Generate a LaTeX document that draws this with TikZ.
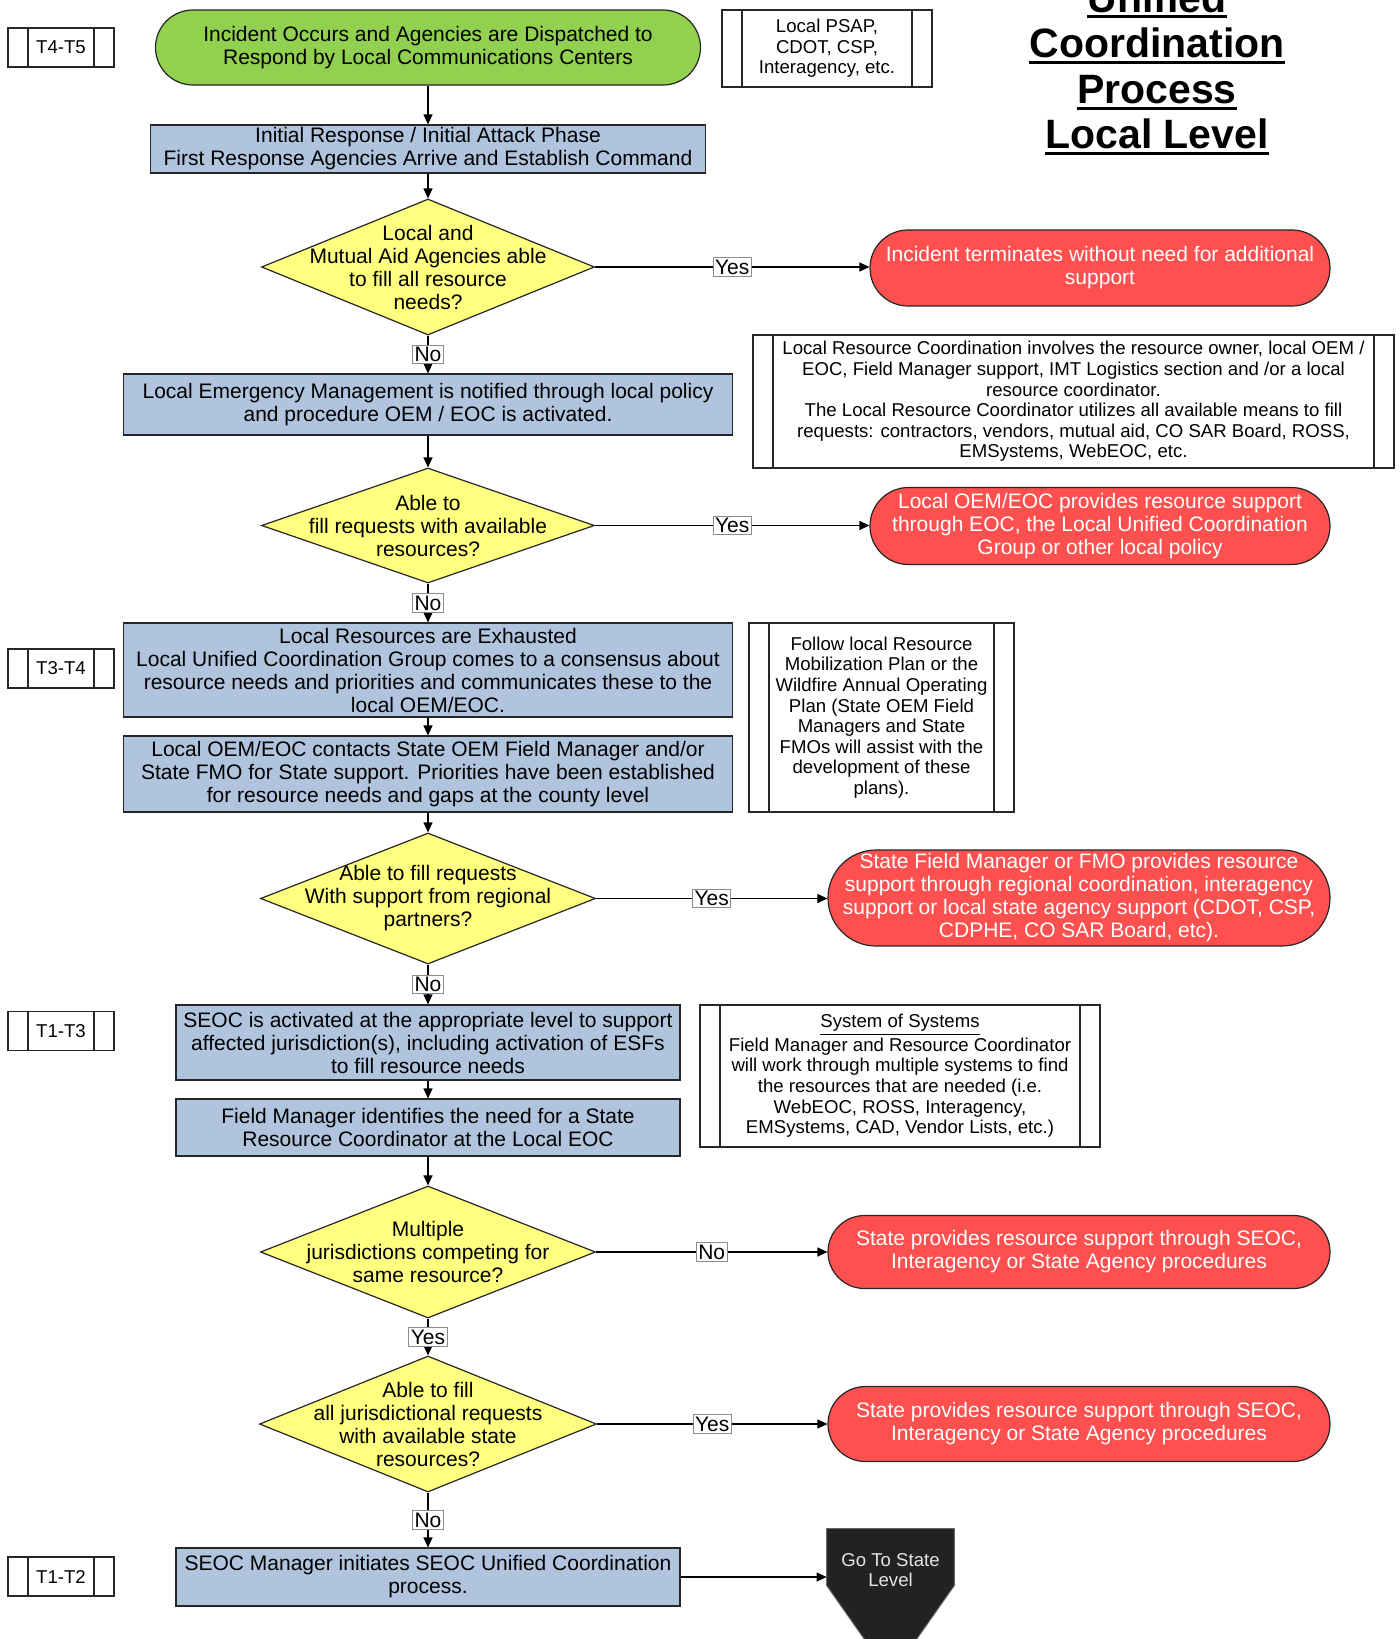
\documentclass[tikz,border=0pt]{standalone}
\usepackage{fontspec}
\setmainfont{Liberation Sans}
\usetikzlibrary{shapes.geometric,shapes.misc,arrows.meta,backgrounds}

\definecolor{startgreen}{HTML}{92D050}
\definecolor{stepblue}{HTML}{B0C4DE}
\definecolor{askyellow}{HTML}{FFFF80}
\definecolor{endred}{HTML}{FF5050}
\definecolor{exitdark}{HTML}{222222}

\newcommand\fmain{\fontsize{10.5}{11.5}\selectfont}
\newcommand\fnote{\fontsize{9.3}{10.3}\selectfont}
\newcommand\ftitle{\fontsize{20.5}{22}\selectfont\bfseries}

\begin{document}
\begin{tikzpicture}[x=0.5pt,y=-0.5pt,
  every node/.style={inner sep=0pt, align=center},
  outline/.style={draw=black!85, line width=0.6pt},
  startbox/.style={outline, rounded rectangle, fill=startgreen, font=\fmain},
  stepbox/.style={outline, rectangle, fill=stepblue, font=\fmain},
  askbox/.style={outline, diamond, fill=askyellow},
  asktext/.style={font=\fmain},
  endbox/.style={outline, rounded rectangle, fill=endred, text=white, font=\fmain},
  widebox/.style={outline, rectangle, rounded corners=#1, fill=endred, text=white, font=\fmain},
  notebox/.style={outline, rectangle, fill=white, font=\fnote,
    path picture={
      \draw[black!85, line width=0.6pt]
        ([xshift=10pt]path picture bounding box.north west) --
        ([xshift=10pt]path picture bounding box.south west);
      \draw[black!85, line width=0.6pt]
        ([xshift=-10pt]path picture bounding box.north east) --
        ([xshift=-10pt]path picture bounding box.south east);
    }},
  lanebox/.style={notebox, minimum width=53pt, minimum height=19.5pt, font=\fnote},
  flow/.style={draw=black, line width=0.6pt, -{Triangle[length=5pt,width=4.5pt]}},
  answer/.style={fill=white, draw=black!45, line width=0.4pt, inner sep=1pt, font=\fmain},
  heading/.style={font=\ftitle, anchor=base},
]
\useasboundingbox (0,0) rectangle (1400,1639);
\begin{scope}[on background layer]
  \fill[white] (0,0) rectangle (1400,1639);
\end{scope}

% title
\node[heading] (ttl1) at (1157,12) {Unified};
\node[heading] (ttl2) at (1157,57.5) {Coordination};
\node[heading] (ttl3) at (1157,103.5) {Process};
\node[heading] (ttl4) at (1157,148.5) {Local Level};
\foreach \t in {ttl1,ttl2,ttl3,ttl4}
  \fill ([yshift=-1.6pt]\t.base west) rectangle ([yshift=-3.1pt]\t.base east);

% tier labels
\node[lanebox] (lane1) at (61,47.5) {T4-T5};
\node[lanebox] (lane2) at (61,668.5) {T3-T4};
\node[lanebox] (lane3) at (61,1031) {T1-T3};
\node[lanebox] (lane4) at (61,1576.5) {T1-T2};

% main column
\node[startbox, minimum width=272.5pt, minimum height=37.5pt] (start) at (428,47.5)
  {Incident Occurs and Agencies are Dispatched to\\Respond by Local Communications Centers};
\node[stepbox, minimum width=277.5pt, minimum height=24pt] (box1) at (428,149)
  {Initial Response / Initial Attack Phase\\First Response Agencies Arrive and Establish Command};
\node[askbox, minimum width=166.5pt, minimum height=68pt] (d1) at (428,267) {};
\node[asktext] (d1t) at (d1) {Local and\\Mutual Aid Agencies able\\to fill all resource\\needs?};
\node[stepbox, minimum width=304.5pt, minimum height=30.5pt] (box2) at (428,404.5)
  {Local Emergency Management is notified through local policy\\and procedure OEM / EOC is activated.};
\node[askbox, minimum width=166.5pt, minimum height=57.5pt] (d2) at (428,525.5) {};
\node[asktext] (d2t) at (d2) {Able to\\fill requests with available\\resources?};
\node[stepbox, minimum width=304.5pt, minimum height=47pt] (box3) at (428,670)
  {Local Resources are Exhausted\\Local Unified Coordination Group comes to a consensus about\\resource needs and priorities and communicates these to the\\local OEM/EOC.};
\node[stepbox, minimum width=304.5pt, minimum height=38pt] (box4) at (428,774)
  {Local OEM/EOC contacts State OEM Field Manager and/or\\State FMO for State support. Priorities have been established\\for resource needs and gaps at the county level};
\node[askbox, minimum width=167.5pt, minimum height=65.5pt] (d3) at (428,898.5) {};
\node[asktext] (d3t) at (d3) {Able to fill requests\\With support from regional\\partners?};
\node[stepbox, minimum width=252pt, minimum height=37.5pt] (box5) at (428,1042.5)
  {SEOC is activated at the appropriate level to support\\affected jurisdiction(s), including activation of ESFs\\to fill resource needs};
\node[stepbox, minimum width=252pt, minimum height=28.5pt] (box6) at (428,1127.5)
  {Field Manager identifies the need for a State\\Resource Coordinator at the Local EOC};
\node[askbox, minimum width=167.5pt, minimum height=66pt] (d4) at (428,1252) {};
\node[asktext] (d4t) at (d4) {Multiple\\jurisdictions competing for\\same resource?};
\node[askbox, minimum width=168.5pt, minimum height=68pt] (d5) at (428,1424) {};
\node[asktext] (d5t) at (d5) {Able to fill\\all jurisdictional requests\\with available state\\resources?};
\node[stepbox, minimum width=252pt, minimum height=29pt] (box7) at (428,1577)
  {SEOC Manager initiates SEOC Unified Coordination\\process.};

% outcomes
\node[endbox, minimum width=230pt, minimum height=38pt] (r1) at (1100,268)
  {Incident terminates without need for additional\\support};
\node[endbox, minimum width=230pt, minimum height=38.5pt] (r2) at (1100,526)
  {Local OEM/EOC provides resource support\\through EOC, the Local Unified Coordination\\Group or other local policy};
\node[widebox=24pt, minimum width=251pt, minimum height=48pt] (r3) at (1079,898)
  {State Field Manager or FMO provides resource\\support through regional coordination, interagency\\support or local state agency support (CDOT, CSP,\\CDPHE, CO SAR Board, etc).};
\node[endbox, minimum width=251pt, minimum height=36.5pt] (r4) at (1079,1252)
  {State provides resource support through SEOC,\\Interagency or State Agency procedures};
\node[endbox, minimum width=251pt, minimum height=37.5pt] (r5) at (1079,1424)
  {State provides resource support through SEOC,\\Interagency or State Agency procedures};

% off-page exit to the state level
\node[minimum width=63.5pt, minimum height=28pt] (goto) at (890.5,1557) {};
\begin{scope}[on background layer]
  \filldraw[fill=exitdark, draw=black!60, line width=0.5pt]
    (goto.north west) -- (goto.north east) -- (goto.south east) --
    ([yshift=-45.5pt]goto.south) -- (goto.south west) -- cycle;
\end{scope}
\node[font=\fnote, text=black!10] (gototext) at (890.5,1570) {Go To State\\Level};

% annotations
\node[notebox, minimum width=105pt, minimum height=38.5pt] (psap) at (827,48.5)
  {Local PSAP,\\CDOT, CSP,\\Interagency, etc.};
\node[notebox, minimum width=320.5pt, minimum height=66.5pt] (note2) at (1073.5,401.5)
  {Local Resource Coordination involves the resource owner, local OEM /\\EOC, Field Manager support, IMT Logistics section and /or a local\\resource coordinator.\\The Local Resource Coordinator utilizes all available means to fill\\requests: contractors, vendors, mutual aid, CO SAR Board, ROSS,\\EMSystems, WebEOC, etc.};
\node[notebox, minimum width=132.5pt, minimum height=94.5pt] (note3) at (881.5,717.5)
  {Follow local Resource\\Mobilization Plan or the\\Wildfire Annual Operating\\Plan (State OEM Field\\Managers and State\\FMOs will assist with the\\development of these\\plans).};
\node[notebox, minimum width=200pt, minimum height=71pt] (note4) at (900,1076)
  {\underline{System of Systems}\\Field Manager and Resource Coordinator\\will work through multiple systems to find\\the resources that are needed (i.e.\\WebEOC, ROSS, Interagency,\\EMSystems, CAD, Vendor Lists, etc.)};

% main flow
\draw[flow] (start.south) -- (box1.north);
\draw[flow] (box1.south) -- (d1.north);
\draw[flow] (d1.south) -- node[answer] {No} (box2.north);
\draw[flow] (box2.south) -- (d2.north);
\draw[flow] (d2.south) -- node[answer] {No} (box3.north);
\draw[flow] (box3.south) -- (box4.north);
\draw[flow] (box4.south) -- (d3.north);
\draw[flow] (d3.south) -- node[answer] {No} (box5.north);
\draw[flow] (box5.south) -- (box6.north);
\draw[flow] (box6.south) -- (d4.north);
\draw[flow] (d4.south) -- node[answer] {Yes} (d5.north);
\draw[flow] (d5.south) -- node[answer] {No} (box7.north);

% branches to outcomes
\draw[flow] (d1.east) -- node[answer] {Yes} (d1.east -| r1.west);
\draw[flow] (d2.east) -- node[answer] {Yes} (d2.east -| r2.west);
\draw[flow] (d3.east) -- node[answer] {Yes} (d3.east -| r3.west);
\draw[flow] (d4.east) -- node[answer] {No} (d4.east -| r4.west);
\draw[flow] (d5.east) -- node[answer] {Yes} (d5.east -| r5.west);
\draw[flow] (box7.east) -- (box7.east -| goto.west);
\end{tikzpicture}
\end{document}
